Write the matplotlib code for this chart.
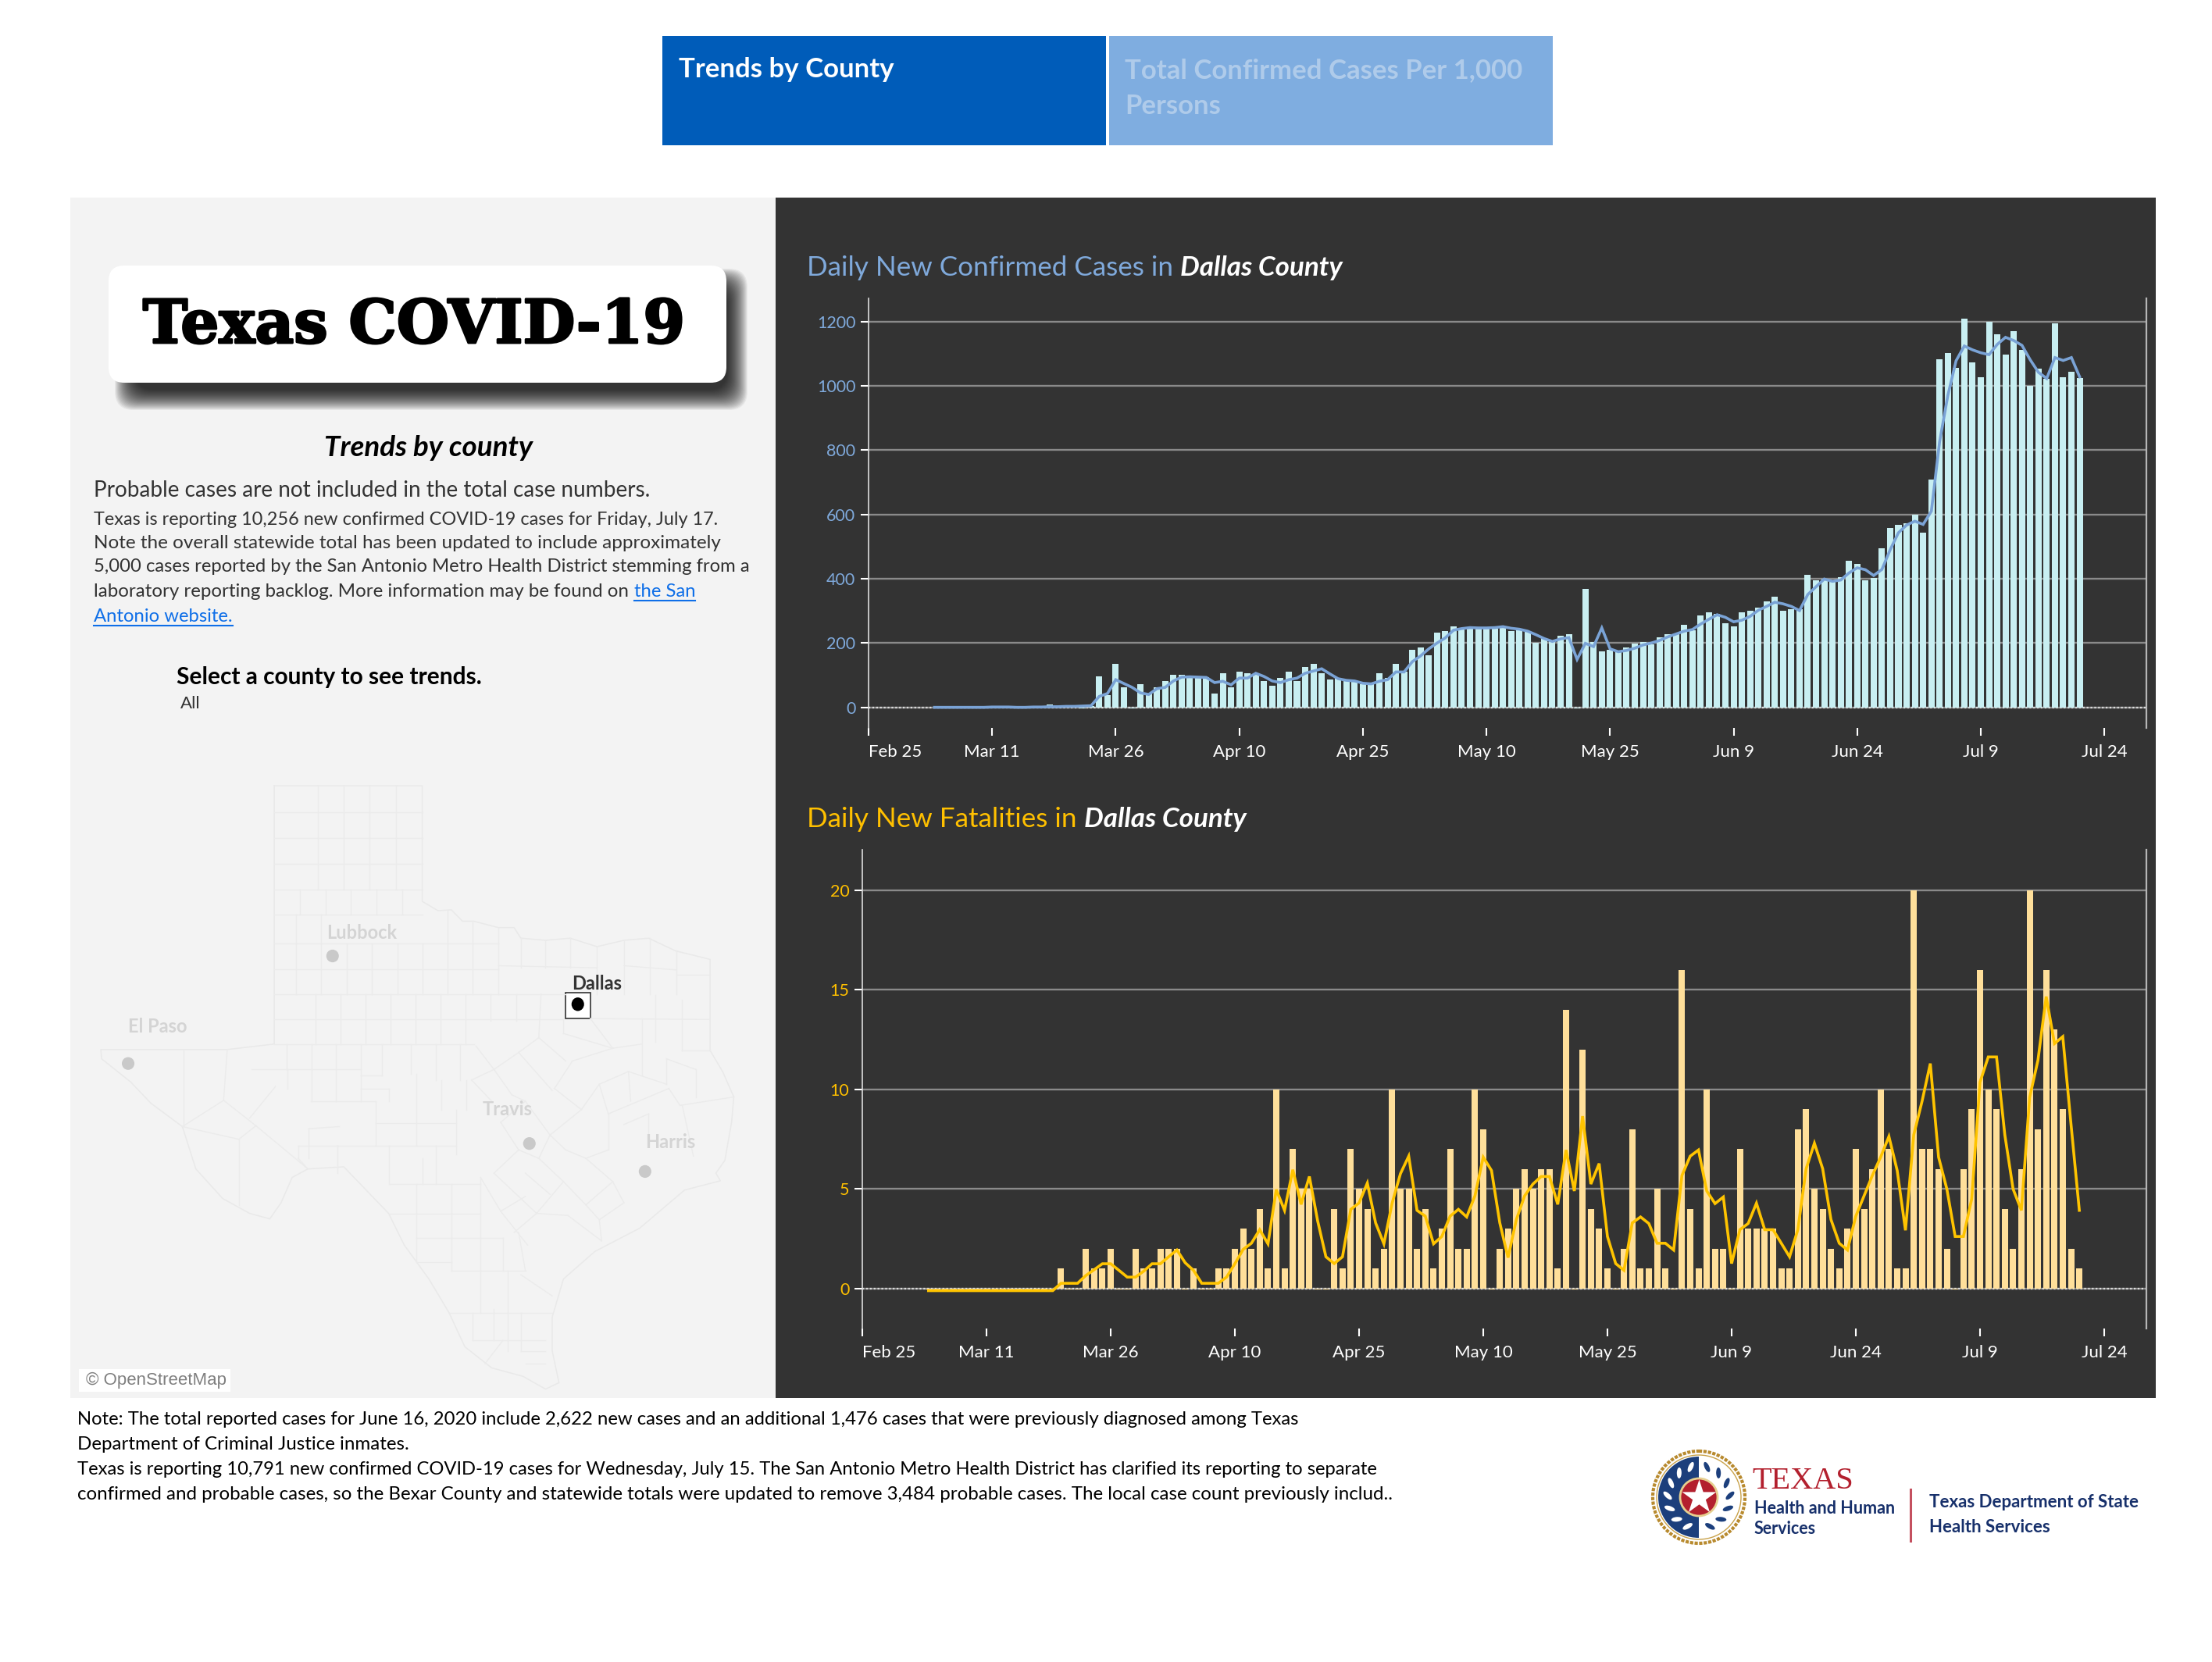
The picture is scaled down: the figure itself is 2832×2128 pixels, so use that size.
import matplotlib
matplotlib.use("Agg")
import matplotlib.pyplot as plt
import matplotlib.patheffects as pe
import numpy as np
from matplotlib.patches import Circle, Ellipse, FancyBboxPatch, Rectangle, Wedge

W, H = 2832, 2128
FONT = "Lato"

# days counted from Feb 25
bar_days = list(range(8, 148))
tick_days = [0, 15, 30, 45, 60, 75, 90, 105, 120, 135, 150]
tick_labels = ["Feb 25", "Mar 11", "Mar 26", "Apr 10", "Apr 25", "May 10", "May 25", "Jun 9", "Jun 24", "Jul 9", "Jul 24"]

cases = [-2, 0, 0, 1, 0, 0, 1, 2, 2, 1, -1, 1, -2, 2, 8, 4, 5, 7, -3, 3,
         96, 38, 135, 62, -3, 72, 43, 62, 82, 100, 100, 96, 93, 94, 43, 106, 62, 110, 106, 106,
         82, 67, 91, 110, 82, 126, 135, 106, 86, 91, 84, 82, 72, 72, 106, 91, 135, 110, 178, 187,
         163, 232, 237, 251, 242, 250, 248, 248, 245, 252, 238, 240, 235, 200, 216, 207, 223, 228, -3, 369,
         204, 175, 180, 175, 187, 199, 204, 197, 218, 228, 228, 256, 240, 286, 296, 290, 261, 253, 296, 301,
         310, 329, 344, 301, 305, 305, 412, 394, 399, 391, 406, 456, 446, 394, 402, 495, 557, 567, 572, 600,
         544, 709, 1082, 1102, 1057, 1209, 1073, 1028, 1200, 1160, 1097, 1170, 1111, 1000, 1054, 1023, 1194, 1028, 1044, 1024]
cases_avg = [0, 0, 0, 0, 0, 0, 0, 1, 1, 1, 0, 0, 1, 1, 2, 2, 3, 3, 4, 5,
             34, 43, 86, 74, 62, 45, 40, 58, 62, 82, 94, 95, 94, 93, 77, 81, 70, 91, 91, 106,
             96, 82, 77, 86, 91, 106, 113, 120, 104, 89, 84, 82, 75, 73, 81, 86, 110, 110, 142, 160,
             182, 200, 216, 240, 245, 248, 247, 247, 248, 251, 246, 243, 237, 226, 214, 205, 213, 217, 149, 199,
             189, 247, 182, 173, 177, 184, 194, 200, 208, 219, 228, 237, 242, 259, 274, 288, 280, 266, 271, 283,
             302, 314, 327, 322, 314, 301, 351, 375, 399, 392, 396, 418, 434, 428, 410, 429, 490, 543, 567, 579,
             569, 610, 826, 970, 1078, 1124, 1112, 1103, 1097, 1129, 1151, 1141, 1126, 1081, 1042, 1023, 1088, 1079, 1088, 1028]
deaths = [0, 0, 0, 0, 0, 0, 0, 0, 0, 0, 0, 0, 0, 0, 0, 0, 1, 0, 0, 2,
          1, 1, 2, 0, 0, 2, 1, 1, 2, 2, 2, 0, 1, 0, 0, 1, 1, 2, 3, 2,
          4, 1, 10, 1, 7, 5, 5, 0, 0, 4, 1, 7, 5, 4, 1, 2, 10, 5, 5, 2,
          4, 1, 3, 7, 2, 2, 10, 8, 0, 2, 3, 5, 6, 5, 6, 6, 1, 14, 0, 12,
          4, 3, 1, 0, 2, 8, 1, 1, 5, 1, 0, 16, 4, 1, 10, 2, 2, 0, 7, 3,
          3, 3, 3, 1, 1, 8, 9, 5, 4, 2, 1, 3, 7, 4, 6, 10, 7, 1, 1, 20,
          7, 7, 6, 2, 0, 6, 9, 16, 10, 9, 4, 2, 6, 20, 8, 16, 13, 9, 2, 1]
deaths_avg = [-0.1, -0.1, -0.1, -0.1, -0.1, -0.1, -0.1, -0.1, -0.1, -0.1, -0.1, -0.1, -0.1, -0.1, -0.1, -0.1, 0.27, 0.27, 0.27, 0.66,
              0.95, 1.25, 1.25, 0.92, 0.58, 0.58, 0.88, 1.25, 1.25, 1.6, 1.94, 1.3, 0.92, 0.27, 0.27, 0.27, 0.58, 1.25, 1.97, 2.28,
              2.96, 2.25, 4.97, 3.93, 5.97, 4.23, 5.63, 3.4, 1.6, 1.26, 1.6, 3.98, 4.3, 5.3, 3.3, 2.25, 4.3, 5.77, 6.65, 3.93,
              3.64, 2.25, 2.62, 3.64, 3.98, 3.6, 4.66, 6.6, 5.93, 3.3, 1.56, 3.47, 4.66, 5.25, 5.63, 5.63, 4.23, 6.96, 4.9, 8.66,
              5.25, 6.28, 2.62, 1.26, 0.92, 3.3, 3.6, 3.27, 2.28, 2.28, 1.94, 5.68, 6.65, 6.96, 4.9, 4.27, 4.6, 1.26, 2.96, 3.27,
              4.29, 2.96, 2.96, 2.28, 1.6, 2.96, 6.02, 7.3, 6.02, 3.47, 2.28, 1.94, 3.64, 4.66, 5.68, 6.6, 7.64, 5.93, 2.93, 7.72,
              9.4, 11.3, 6.6, 5.0, 2.62, 2.62, 4.5, 10.36, 11.63, 11.63, 7.72, 5.0, 3.93, 9.6, 11.46, 14.66, 12.3, 12.65, 8.23, 3.93]

case_ticks = [0, 200, 400, 600, 800, 1000, 1200]
death_ticks = [0, 5, 10, 15, 20]

# map geometry, in map crop units
texas_x = [455, 785, 785, 820, 850, 875, 900, 955, 990, 1005, 1060, 1115, 1175, 1235, 1290, 1350, 1427, 1427, 1455, 1480,
           1475, 1460, 1440, 1450, 1370, 1320, 1270, 1170, 1100, 1075, 1075, 1090, 1060, 1010, 940, 880, 845, 800, 745, 710,
           660, 610, 530, 495, 470, 445, 400, 340, 280, 250, 180, 135, 70, 68, 350, 455, 455]
texas_y = [85, 85, 358, 380, 378, 405, 405, 420, 420, 445, 450, 445, 465, 450, 445, 475, 495, 710, 760, 820,
           880, 970, 1000, 1018, 1040, 1085, 1130, 1185, 1250, 1340, 1420, 1495, 1510, 1480, 1460, 1410, 1330, 1250, 1170, 1095,
           1040, 985, 990, 1010, 1070, 1108, 1095, 1060, 990, 890, 835, 785, 730, 708, 708, 695, 85]
county_lines = [
    (552, 85, 552, 330), (610, 85, 610, 330), (668, 85, 668, 330), (727, 85, 727, 330),
    (455, 148, 785, 148), (455, 209, 785, 209), (455, 270, 785, 270), (455, 330, 785, 330),
    (512, 330, 512, 390), (570, 330, 570, 390), (626, 330, 626, 390), (683, 330, 683, 390), (740, 330, 740, 390),
    (455, 390, 785, 390), (455, 458, 955, 458), (455, 518, 955, 518), (455, 577, 1105, 577), (455, 637, 1100, 637),
    (503, 390, 503, 577), (560, 390, 560, 577), (617, 458, 617, 577), (673, 458, 673, 577), (730, 458, 730, 577),
    (785, 458, 785, 577), (842, 380, 842, 577), (898, 405, 898, 577), (955, 420, 955, 577), (1005, 445, 1005, 515),
    (955, 510, 1175, 515), (1060, 450, 1060, 515), (1115, 445, 1115, 515), (1175, 465, 1175, 577), (1235, 450, 1235, 577),
    (1292, 445, 1292, 577), (1352, 475, 1352, 577), (1352, 532, 1427, 532), (1235, 510, 1352, 520), (547, 577, 547, 695),
    (602, 577, 602, 695), (658, 577, 658, 695), (714, 577, 714, 695), (770, 577, 770, 695), (826, 577, 826, 695),
    (882, 577, 882, 695), (938, 577, 938, 640), (994, 577, 994, 640), (1050, 577, 1045, 680), (455, 695, 900, 695),
    (1100, 637, 1100, 670), (1100, 670, 1210, 705), (1160, 635, 1210, 705), (1210, 705, 1275, 695), (1275, 635, 1275, 770),
    (1160, 635, 1427, 637), (1305, 580, 1305, 690), (1365, 590, 1365, 710), (1365, 710, 1427, 710), (1330, 730, 1395, 755),
    (1330, 730, 1330, 790), (1395, 755, 1395, 820), (1245, 760, 1330, 790), (1245, 760, 1250, 830), (1180, 790, 1245, 760),
    (1180, 790, 1200, 860), (1200, 860, 1335, 800), (1335, 800, 1360, 840), (1360, 840, 1480, 820), (1365, 840, 1390, 960),
    (1235, 885, 1290, 860), (1290, 860, 1290, 920), (1200, 860, 1200, 945), (1200, 945, 1150, 965), (1150, 965, 1105, 945),
    (1105, 945, 1070, 910), (1070, 910, 1140, 850), (1140, 850, 1180, 790), (1140, 850, 1080, 800), (1080, 800, 1120, 735),
    (1120, 735, 1210, 705), (1045, 680, 1105, 735), (1000, 715, 1045, 680), (1000, 715, 1075, 805), (945, 755, 1000, 715),
    (945, 755, 985, 815), (905, 700, 945, 755), (895, 780, 945, 755), (895, 780, 940, 830), (1070, 910, 1015, 830),
    (985, 815, 1015, 830), (960, 880, 1015, 830), (960, 880, 1000, 945), (1000, 945, 1045, 965), (1045, 965, 1070, 910),
    (1000, 945, 945, 1000), (945, 1000, 1000, 1055), (1045, 965, 1100, 1020), (1015, 1000, 1070, 1050), (1100, 1020, 1040, 1095),
    (1000, 1055, 1040, 1095), (1150, 965, 1210, 1020), (1210, 1020, 1150, 1075), (1100, 1020, 1150, 1075), (1210, 1020, 1235, 1070),
    (1235, 1070, 1180, 1110), (1150, 1075, 1180, 1110), (1180, 1110, 1185, 1160), (1110, 1100, 1185, 1160), (1040, 1095, 1110, 1100),
    (1040, 1095, 990, 1140), (960, 1090, 1015, 1055), (960, 1090, 1020, 1170), (915, 1010, 960, 1090), (915, 1010, 915, 1330),
    (850, 1025, 850, 1230), (772, 1025, 772, 1210), (712, 1025, 915, 1025), (712, 1095, 915, 1095), (772, 1153, 965, 1153),
    (772, 1210, 850, 1210), (850, 1230, 1015, 1230), (965, 1153, 965, 1230), (1015, 1230, 1000, 1140), (845, 1330, 1075, 1330),
    (975, 1230, 975, 1420), (1005, 1240, 1075, 1290), (898, 1330, 898, 1395), (945, 1320, 945, 1395), (1005, 1330, 1005, 1420),
    (898, 1395, 1060, 1395), (965, 1395, 925, 1450), (1005, 1420, 1060, 1420), (1015, 1450, 1060, 1450),
    (682, 830, 682, 935), (772, 765, 772, 935), (682, 882, 860, 882), (536, 830, 682, 830), (595, 935, 860, 935), (860, 850, 860, 955),
    (827, 780, 827, 850), (883, 780, 883, 850), (710, 935, 710, 1025), (595, 935, 595, 1000), (508, 935, 595, 935), (508, 935, 508, 965),
    (532, 895, 600, 890), (532, 895, 532, 965), (508, 965, 530, 990), (815, 935, 815, 1025), (785, 965, 785, 1025),
    (482, 695, 482, 755), (538, 695, 538, 830), (592, 695, 592, 830), (648, 695, 648, 830), (695, 695, 695, 770), (648, 770, 695, 770),
    (760, 695, 760, 765), (815, 695, 815, 780), (870, 695, 870, 780), (405, 755, 648, 755), (485, 755, 485, 800), (648, 800, 710, 800),
    (710, 800, 710, 830), (253, 708, 253, 890), (350, 708, 342, 828), (342, 828, 250, 890), (342, 828, 414, 888), (400, 870, 458, 795),
    (414, 888, 376, 920), (250, 890, 376, 920), (376, 920, 376, 1075), (414, 888, 530, 990),
]

fig = plt.figure(figsize=(W / 100, H / 100), dpi=100, facecolor="white")


def px_axes(left, top, right, bottom):
    return fig.add_axes([left / W, 1 - bottom / H, (right - left) / W, (bottom - top) / H])


# whole page layer in pixel units for panels and text
page = px_axes(0, 0, W, H)
page.set_xlim(0, W)
page.set_ylim(H, 0)
page.axis("off")

page.add_patch(Rectangle((848, 46), 568, 140, color="#005cb9", lw=0))
page.add_patch(Rectangle((1420, 46), 568, 140, color="#7fade0", lw=0))
page.text(869, 89, "Trends by County", color="white", fontsize=25, fontweight="bold", family=FONT, va="center")
page.text(1440, 90, "Total Confirmed Cases Per 1,000", color="#afcbea", fontsize=25, fontweight="bold", family=FONT, va="center")
page.text(1440, 136, "Persons", color="#afcbea", fontsize=25, fontweight="bold", family=FONT, va="center")

page.add_patch(Rectangle((90, 253), 903, 1537, color="#f3f3f3", lw=0))
page.add_patch(Rectangle((993, 253), 1767, 1537, color="#333333", lw=0))

# title card, shadow sits down and to the right
for pad in range(36, 9, -1):
    page.add_patch(FancyBboxPatch((183, 380), 738, 109, boxstyle=f"round,pad={pad},rounding_size=24",
                                  fc="black", ec="none", alpha=0.05))
page.add_patch(FancyBboxPatch((149, 350), 771, 130, boxstyle="round,pad=10,rounding_size=20", fc="white", ec="none"))
page.text(530, 418, "Texas COVID-19", color="black", fontsize=55.5, fontweight="bold", family="DejaVu Serif", ha="center", va="center",
          path_effects=[pe.withStroke(linewidth=2, foreground="black")])

page.text(549, 574, "Trends by county", color="black", fontsize=26.5, fontweight="bold", style="italic", family=FONT, ha="center", va="center")
page.text(120, 628, "Probable cases are not included in the total case numbers.", color="#333333", fontsize=20.2, family=FONT, va="center")
para = ["Texas is reporting 10,256 new confirmed COVID-19 cases for Friday, July 17.",
        "Note the overall statewide total has been updated to include approximately",
        "5,000 cases reported by the San Antonio Metro Health District stemming from a",
        "laboratory reporting backlog. More information may be found on"]
para_y = [665, 696, 726, 758]
para_size = [16.9, 17.5, 17.2, 17.4]
for line, y, size in zip(para, para_y, para_size):
    page.text(120, y, line, color="#333333", fontsize=size, family=FONT, va="center")
page.text(812, 758, "the San", color="#0f6fe8", fontsize=17.2, family=FONT, va="center")
page.text(120, 790, "Antonio website.", color="#0f6fe8", fontsize=17.2, family=FONT, va="center")
page.plot([812, 890], [769, 769], color="#0f6fe8", lw=1.5)
page.plot([120, 298], [801, 801], color="#0f6fe8", lw=1.5)
page.text(226, 867, "Select a county to see trends.", color="black", fontsize=21.5, fontweight="bold", family=FONT, va="center")
page.text(231, 901, "All", color="#333333", fontsize=16, family=FONT, va="center")

notes = ["Note: The total reported cases for June 16, 2020 include 2,622 new cases and an additional 1,476 cases that were previously diagnosed among Texas",
         "Department of Criminal Justice inmates.",
         "Texas is reporting 10,791 new confirmed COVID-19 cases for Wednesday, July 15. The San Antonio Metro Health District has clarified its reporting to separate",
         "confirmed and probable cases, so the Bexar County and statewide totals were updated to remove 3,484 probable cases. The local case count previously includ.."]
notes_y = [1817, 1849, 1882, 1913]
notes_size = [17.2, 17.35, 17.1, 17.37]
for line, y, size in zip(notes, notes_y, notes_size):
    page.text(99, y, line, color="black", fontsize=size, family=FONT, va="center")

# chart headings
t1 = page.text(1033, 353, "Daily New Confirmed Cases in ", color="#7fa9db", fontsize=25.2, family=FONT, va="baseline")
page.annotate("Dallas County", xy=(1, 0), xycoords=t1, color="white", fontsize=25.2, fontweight="bold", style="italic", family=FONT, va="bottom")
t2 = page.text(1033, 1059, "Daily New Fatalities in ", color="#ffc000", fontsize=25.2, family=FONT, va="baseline")
page.annotate("Dallas County", xy=(1, 0), xycoords=t2, color="white", fontsize=25.2, fontweight="bold", style="italic", family=FONT, va="bottom")


def draw_chart(ax, bars, avg, bar_color, line_color, label_color, ticks, ylim, x_right):
    ax.set_facecolor("none")
    heights = [v if v != 0 else ylim[1] * -0.002 for v in bars]
    ax.bar(bar_days, heights, width=0.76, color=bar_color, zorder=3)
    ax.plot(bar_days, avg, color=line_color, lw=2.6, zorder=4, solid_joinstyle="miter")
    ax.axhline(0, color="#dddddd", lw=1.6, ls=(0, (1, 1.2)), zorder=2)
    ax.set_xlim(0, x_right)
    ax.set_ylim(*ylim)
    ax.set_yticks(ticks)
    ax.set_xticks(tick_days)
    ax.set_xticklabels(tick_labels)
    ax.xaxis.get_major_ticks()[0].label1.set_ha("left")
    ax.grid(axis="y", color="#8a8a8a", lw=1.7, zorder=1)
    ax.tick_params(axis="x", colors="white", length=7, width=1.5, pad=8, labelsize=16)
    ax.tick_params(axis="y", color="white", labelcolor=label_color, length=7, width=1.5, pad=5, labelsize=15.5)
    for lab in ax.get_xticklabels() + ax.get_yticklabels():
        lab.set_family(FONT)
    ax.spines["top"].set_visible(False)
    ax.spines["bottom"].set_visible(False)
    ax.spines["left"].set_color("#dddddd")
    ax.spines["right"].set_color("#b5b5b5")
    ax.spines["left"].set_linewidth(1.2)
    ax.spines["right"].set_linewidth(1.6)


top = px_axes(1112, 382.5, 2748, 932)
draw_chart(top, cases, cases_avg, "#c8eff2", "#7aa3d6", "#7fa9db", case_ticks, (-64, 1271), 155.1)
bottom = px_axes(1104, 1088, 2748, 1701)
draw_chart(bottom, deaths, deaths_avg, "#ffdf9a", "#ffc400", "#ffc000", death_ticks, (-2.0, 22.03), 155.1)

# Texas map, crop units so the outline stays as read
tx = px_axes(90, 960, 990, 1810)
tx.set_xlim(0, 1568)
tx.set_ylim(1568, 0)
tx.axis("off")
tx.plot(texas_x, texas_y, color="#e9e9e9", lw=1.1)
for x1, y1, x2, y2 in county_lines:
    tx.plot([x1, x2], [y1, y2], color="#ebebeb", lw=1.0)

map_points = [("Lubbock", 585, 487, 650, 432), ("El Paso", 129, 741, 195, 654), ("Travis", 1024, 930, 975, 850), ("Harris", 1282, 996, 1338, 927)]
for name, x, y, lx, ly in map_points:
    tx.add_patch(Ellipse((x, y), 28, 30, color="#c9c9c9", lw=0))
    tx.text(lx, ly, name, color="#d4d4d4", fontsize=17, fontweight="bold", family=FONT, ha="center", va="center")
tx.add_patch(Rectangle((1104, 574), 57, 61, fc="white", ec="#333333", lw=1.2))
tx.add_patch(Ellipse((1132, 601), 28, 32, color="black", lw=0))
tx.text(1175, 553, "Dallas", color="#333333", fontsize=17, fontweight="bold", family=FONT, ha="center", va="center")
tx.add_patch(Rectangle((20, 1463), 337, 53, color="white", lw=0))
tx.text(35, 1490, "© OpenStreetMap", color="#7f7f7f", fontsize=16, family="Liberation Sans", va="center")

# agency logo
seal_x, seal_y = 2175, 1917
page.add_patch(Circle((seal_x, seal_y), 59, fc="white", ec="#b88a2e", lw=3, ls=(0, (1, 0.4))))
page.add_patch(Circle((seal_x, seal_y), 54, fc="white", ec="#c9a24a", lw=1))
page.add_patch(Wedge((seal_x, seal_y), 52, 90, 270, fc="#1c3f7c", ec="none"))
for ang in range(105, 265, 24):
    a = np.radians(ang)
    page.add_patch(Ellipse((seal_x + 40 * np.cos(a), seal_y - 40 * np.sin(a)), 14, 6, angle=-ang + 40, color="white", lw=0))
    b = np.radians(180 - ang)
    page.add_patch(Ellipse((seal_x + 40 * np.cos(b), seal_y - 40 * np.sin(b)), 14, 6, angle=ang - 40, color="#1c3f7c", lw=0))
page.add_patch(Circle((seal_x, seal_y), 24, fc="#b3202e", ec="#e6cf8f", lw=2))
page.scatter([seal_x], [seal_y], marker="*", s=1100, color="white", zorder=5, lw=0)

page.text(2243, 1896, "TEXAS", color="#b3202e", fontsize=29, family="Liberation Serif", va="center")
page.text(2246, 1932, "Health and Human", color="#17306b", fontsize=15.5, fontweight="bold", family=FONT, va="center")
page.text(2246, 1958, "Services", color="#17306b", fontsize=15.5, fontweight="bold", family=FONT, va="center")
page.plot([2445.6, 2445.6], [1907, 1973], color="#c4505f", lw=2.2)
page.text(2470, 1923, "Texas Department of State", color="#17306b", fontsize=16, fontweight="bold", family=FONT, va="center")
page.text(2470, 1955, "Health Services", color="#17306b", fontsize=16, fontweight="bold", family=FONT, va="center")

page.set_zorder(0)
top.set_zorder(2)
bottom.set_zorder(2)
tx.set_zorder(1)
tx.patch.set_visible(False)

fig.savefig("out.png", dpi=100, facecolor="white")
plt.close(fig)
